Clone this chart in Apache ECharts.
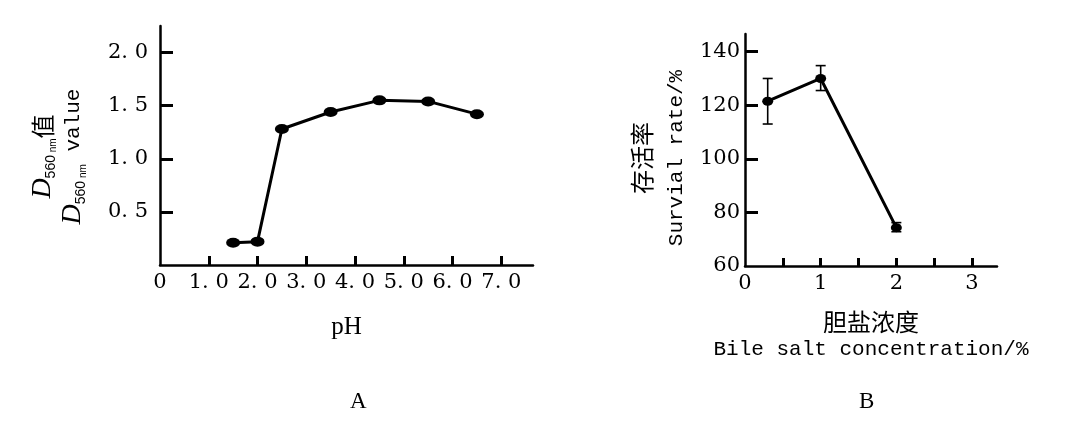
<!DOCTYPE html>
<html>
<head>
<meta charset="utf-8">
<style>
html,body{margin:0;padding:0;background:#fff;}
#c{width:1074px;height:422px;}
</style>
<script src="https://cdn.jsdelivr.net/npm/echarts@6/dist/echarts.min.js"></script>
</head>
<body>
<div id="c"></div>
<script>
// Panel A: D560nm value vs pH
const phX = [1.5, 2.0, 2.5, 3.5, 4.5, 5.5, 6.5];
const phY = [0.21, 0.22, 1.28, 1.44, 1.55, 1.54, 1.42];
const aXLabels = [0, 1, 2, 3, 4, 5, 6, 7];
const aXTicks = [1, 2, 3, 4, 5, 6, 7];
const aYLabels = [0.5, 1.0, 1.5, 2.0];

// Panel B: survival rate vs bile salt concentration
const bileX = [0.3, 1, 2];
const survival = [121.5, 130, 74.3];
const survLow = [113, 125.5, 72.8];
const survHigh = [130, 134.8, 76.2];
const bXLabels = [0, 1, 2, 3];
const bXTicks = [0.5, 1, 1.5, 2, 2.5, 3];
const bYLabels = [60, 80, 100, 120, 140];
const bYTicks = [80, 100, 120, 140];

const numFont = 'DejaVu Serif';
const monoFont = 'Liberation Mono';
const cjkFont = 'Noto Sans CJK SC';
const axisLineStyle = {color: '#000', width: 2.5};

const chart = echarts.init(document.getElementById('c'), null, {renderer: 'canvas'});

const aFmt = v => (v === 0 ? '0' : Number(v).toFixed(1).replace('.', '. '));

chart.setOption({
  animation: false,
  backgroundColor: '#fff',
  grid: [
    {left: 160, right: 541, top: 26, bottom: 157},
    {left: 745, right: 77, top: 34, bottom: 156}
  ],
  xAxis: [
    {
      gridIndex: 0, type: 'value', min: 0, max: 7.65,
      axisLine: {lineStyle: axisLineStyle},
      axisTick: {show: true, inside: true, length: 9, lineStyle: {color: '#000', width: 3}, customValues: aXTicks},
      axisLabel: {customValues: aXLabels, formatter: aFmt, color: '#000', fontFamily: numFont, fontSize: 21, margin: 7},
      splitLine: {show: false},
      name: 'pH', nameLocation: 'middle', nameGap: 50,
      nameTextStyle: {color: '#000', fontFamily: 'Liberation Serif', fontSize: 25}
    },
    {
      gridIndex: 1, type: 'value', min: 0, max: 3.33,
      axisLine: {lineStyle: axisLineStyle},
      axisTick: {show: true, inside: true, length: 8, lineStyle: {color: '#000', width: 3}, customValues: bXTicks},
      axisLabel: {customValues: bXLabels, color: '#000', fontFamily: numFont, fontSize: 21, margin: 7},
      splitLine: {show: false},
      name: '{c|胆盐浓度}\n{e|Bile salt concentration/%}', nameLocation: 'middle', nameGap: 42,
      nameTextStyle: {
        color: '#000', align: 'center',
        rich: {
          c: {fontFamily: cjkFont, fontSize: 24, lineHeight: 28, color: '#000', align: 'center'},
          e: {fontFamily: monoFont, fontSize: 21, lineHeight: 26, color: '#000', align: 'center'}
        }
      }
    }
  ],
  yAxis: [
    {
      gridIndex: 0, type: 'value', min: 0, max: 2.25,
      axisLine: {show: true, lineStyle: axisLineStyle},
      axisTick: {show: true, inside: true, length: 13, lineStyle: {color: '#000', width: 3}, customValues: aYLabels},
      axisLabel: {customValues: aYLabels, formatter: aFmt, color: '#000', fontFamily: numFont, fontSize: 21, margin: 12},
      splitLine: {show: false},
      name: '{d|D}{s|560}{n| nm}{c|值}\n{d|D}{s|560}{n| nm}{e| value}',
      nameLocation: 'middle', nameRotate: 90, nameGap: 72,
      nameTextStyle: {
        color: '#000', align: 'center', padding: [0, 22, 0, 0],
        rich: {
          d: {fontFamily: 'Liberation Serif', fontStyle: 'italic', fontSize: 28, lineHeight: 30, color: '#000'},
          s: {fontFamily: 'Liberation Sans', fontSize: 14, lineHeight: 30, verticalAlign: 'bottom', color: '#000'},
          n: {fontFamily: 'Liberation Sans', fontSize: 10, lineHeight: 30, verticalAlign: 'bottom', color: '#000'},
          c: {fontFamily: cjkFont, fontSize: 24, lineHeight: 30, color: '#000'},
          e: {fontFamily: monoFont, fontSize: 21, lineHeight: 30, color: '#000'}
        }
      }
    },
    {
      gridIndex: 1, type: 'value', min: 60, max: 146.6,
      axisLine: {show: true, lineStyle: axisLineStyle},
      axisTick: {show: true, inside: true, length: 13, lineStyle: {color: '#000', width: 3}, customValues: bYTicks},
      axisLabel: {customValues: bYLabels, color: '#000', fontFamily: numFont, fontSize: 21, margin: 5},
      splitLine: {show: false},
      name: '{c|存活率}\n{e|Survial rate/%}',
      nameLocation: 'middle', nameRotate: 90, nameGap: 52,
      nameTextStyle: {
        color: '#000', align: 'center', padding: [0, 16, 0, 0],
        rich: {
          c: {fontFamily: cjkFont, fontSize: 24, lineHeight: 34, color: '#000'},
          e: {fontFamily: monoFont, fontSize: 21, lineHeight: 34, color: '#000'}
        }
      }
    }
  ],
  series: [
    {
      type: 'line', xAxisIndex: 0, yAxisIndex: 0,
      data: phX.map((x, i) => [x, phY[i]]),
      symbol: 'circle', symbolSize: [14, 10],
      itemStyle: {color: '#000'},
      lineStyle: {color: '#000', width: 3}
    },
    {
      type: 'custom', xAxisIndex: 1, yAxisIndex: 1,
      data: bileX.map((x, i) => [x, survLow[i], survHigh[i]]),
      renderItem: function (params, api) {
        const lo = api.coord([api.value(0), api.value(1)]);
        const hi = api.coord([api.value(0), api.value(2)]);
        const hw = 5;
        const st = {stroke: '#000', lineWidth: 1.6};
        return {
          type: 'group',
          children: [
            {type: 'line', shape: {x1: hi[0], y1: hi[1], x2: lo[0], y2: lo[1]}, style: st},
            {type: 'line', shape: {x1: hi[0] - hw, y1: hi[1], x2: hi[0] + hw, y2: hi[1]}, style: st},
            {type: 'line', shape: {x1: lo[0] - hw, y1: lo[1], x2: lo[0] + hw, y2: lo[1]}, style: st}
          ]
        };
      },
      z: 1
    },
    {
      type: 'line', xAxisIndex: 1, yAxisIndex: 1,
      data: bileX.map((x, i) => [x, survival[i]]),
      symbol: 'circle', symbolSize: [11, 9],
      itemStyle: {color: '#000'},
      lineStyle: {color: '#000', width: 3},
      z: 3
    }
  ],
  graphic: [
    {type: 'text', left: 350, top: 390, style: {text: 'A', font: '23px "Liberation Serif"', fill: '#000'}},
    {type: 'text', left: 859, top: 390, style: {text: 'B', font: '23px "Liberation Serif"', fill: '#000'}}
  ]
});
</script>
</body>
</html>
